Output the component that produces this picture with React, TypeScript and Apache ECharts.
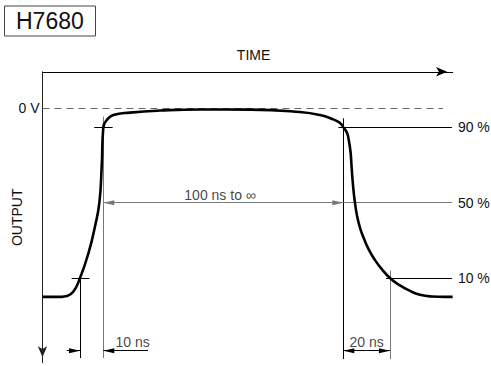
import React, { useEffect, useRef } from "react";
import * as echarts from "echarts";

// ---------- data ----------
const TITLE = "H7680";
const TIME_LABEL = "TIME";
const OUTPUT_LABEL = "OUTPUT";
const ZERO_LABEL = "0 V";

// axis ranges: time in ns, output in % of pulse amplitude (100 % = 0 V)
const TIME_RANGE = [0, 176];
const OUTPUT_RANGE = [-35, 119.5];

// pulse waveform
const PULSE_TIME = [
  0, 8.2, 10.4, 13.2, 16.1, 19.7, 22.5, 24.4, 25.4, 26.1, 27.6, 30.4, 37.6, 50.4, 67.6, 89.1,
  110.5, 119.1, 124.7, 127.7, 129.1, 130.7, 131.5, 132.2, 132.6, 133.0, 133.5, 134.1, 135.0,
  136.3, 138.0, 140.1, 142.7, 145.7, 149.1, 153.0, 157.3, 162.0, 167.2, 172.8, 176,
];
const PULSE_OUTPUT = [
  0, 0, 0.4, 2.7, 10, 23.1, 37.2, 50, 69.1, 90, 93.9, 96.5, 97.8, 98.9, 99.5, 99.4,
  98.1, 96.5, 94.2, 92.3, 90, 87.0, 82.7, 76.9, 70.0, 63.1, 56.2, 50, 42.9,
  36.5, 30.7, 24.9, 19.5, 14.6, 10, 6.4, 3.4, 1.1, 0.2, 0, 0,
];

// characteristic times (ns)
const RISE_10 = 16.1;
const RISE_90 = 26.1;
const FALL_90 = 129.1;
const FALL_10 = 149.1;

// level markers
const LEVELS = [90, 50, 10];
const LEVEL_LABELS = ["90 %", "50 %", "10 %"];
const ZERO_LEVEL = 100;

const WIDTH_LABEL = "100 ns to \u221e";
const RISE_LABEL = "10 ns";
const FALL_LABEL = "20 ns";

// ---------- styling / layout helpers ----------
const FONT = "'Liberation Sans', Arial, Helvetica, sans-serif";
const BLACK = "#111";
const GREY = "#777";
const ARROW = "path://M5,0L10,22L0,22Z";
const DIM_Y = -28.6; // dimension line level (in output units)
const LINE_BOTTOM = -32.5;
const RIGHT_END = 175.7;

type Pt = [number, number];
function seg(from: Pt, to: Pt, color: string, opts: any = {}) {
  return [
    {
      coord: from,
      symbol: "none",
      lineStyle: { color, width: 1, type: opts.dash ? [7, 5] : "solid" },
      label: opts.label
        ? {
            show: true,
            position: opts.labelPos,
            formatter: opts.label,
            distance: opts.labelDist ?? 5,
            color: BLACK,
            fontSize: 14,
            fontFamily: FONT,
          }
        : { show: false },
    },
    {
      coord: to,
      symbol: opts.arrow ? ARROW : "none",
      symbolSize: [5, 11],
      symbolOffset: [0, 5.5],
    },
  ];
}

function buildOption() {
  const pulse = PULSE_TIME.map((t, i) => [t, PULSE_OUTPUT[i]]);
  const midWidth = (RISE_90 + FALL_90) / 2;
  const midFall = (FALL_90 + FALL_10) / 2;

  const lines = [
    // 0 V reference
    seg([TIME_RANGE[0], ZERO_LEVEL], [171.9, ZERO_LEVEL], "#666", {
      dash: true,
      label: ZERO_LABEL,
      labelPos: "start",
      labelDist: 3,
    }),
    // rise ticks
    seg([12.5, 10], [20.1, 10], "#000"),
    seg([22.2, 90], [30.1, 90], "#000"),
    seg([RISE_10, 11.6], [RISE_10, LINE_BOTTOM], "#000"),
    seg([RISE_90, 95.7], [RISE_90, LINE_BOTTOM], GREY),
    // fall verticals
    seg([FALL_90, 94.8], [FALL_90, -33], "#000"),
    seg([FALL_10, 13.9], [FALL_10, -33], GREY),
    // level lines
    seg([127, LEVELS[0]], [RIGHT_END, LEVELS[0]], "#000", { label: LEVEL_LABELS[0], labelPos: "end", labelDist: 6 }),
    seg([FALL_90, LEVELS[1]], [RIGHT_END, LEVELS[1]], GREY, { label: LEVEL_LABELS[1], labelPos: "end", labelDist: 6 }),
    seg([147.4, LEVELS[2]], [RIGHT_END, LEVELS[2]], "#000", { label: LEVEL_LABELS[2], labelPos: "end", labelDist: 6 }),
    // pulse width arrows
    seg([midWidth, LEVELS[1]], [RISE_90, LEVELS[1]], GREY, { arrow: true }),
    seg([midWidth, LEVELS[1]], [FALL_90, LEVELS[1]], GREY, { arrow: true }),
    // rise time arrows
    seg([10.4, DIM_Y], [RISE_10, DIM_Y], "#000", { arrow: true }),
    seg([45.3, DIM_Y], [RISE_90, DIM_Y], "#000", { arrow: true }),
    // fall time arrows
    seg([midFall, DIM_Y], [FALL_90, DIM_Y], "#000", { arrow: true }),
    seg([midFall, DIM_Y], [FALL_10, DIM_Y], "#000", { arrow: true }),
  ];

  const texts = [
    { value: [76.2, 54], name: WIDTH_LABEL, label: { position: "inside" } },
    { value: [31.1, -23.9], name: RISE_LABEL, label: { position: "right", distance: 0 } },
    { value: [midFall, -23.9], name: FALL_LABEL, label: { position: "inside" } },
  ];

  return {
    animation: false,
    backgroundColor: "#fff",
    textStyle: { fontFamily: FONT },
    title: {
      text: TITLE,
      left: 4,
      top: 5.5,
      padding: [4, 12],
      borderWidth: 1,
      borderColor: "#444",
      textStyle: { fontSize: 23, fontWeight: "normal", color: BLACK, fontFamily: FONT, lineHeight: 23 },
    },
    grid: { left: 42.5, top: 71.76, width: 410.1, height: 291, outerBoundsMode: "none", containLabel: false },
    xAxis: {
      type: "value",
      position: "top",
      min: TIME_RANGE[0],
      max: TIME_RANGE[1],
      name: TIME_LABEL,
      nameLocation: "middle",
      nameGap: 10,
      nameTextStyle: { fontSize: 14, color: BLACK, fontFamily: FONT, padding: [0, 0, 0, 12] },
      axisLine: {
        show: true,
        onZero: false,
        symbol: ["none", "arrow"],
        symbolSize: [7, 11],
        symbolOffset: [0, -5.5],
        lineStyle: { color: "#000", width: 1 },
      },
      axisTick: { show: false },
      axisLabel: { show: false },
      splitLine: { show: false },
    },
    yAxis: {
      type: "value",
      min: OUTPUT_RANGE[0],
      max: OUTPUT_RANGE[1],
      name: OUTPUT_LABEL,
      nameLocation: "middle",
      nameGap: 19,
      nameRotate: 90,
      nameTextStyle: { fontSize: 14, color: BLACK, fontFamily: FONT },
      axisLine: {
        show: true,
        onZero: false,
        symbol: ["arrow", "none"],
        symbolSize: [7, 11],
        symbolOffset: [5.5, 0],
        lineStyle: { color: "#222", width: 1 },
      },
      axisTick: { show: false },
      axisLabel: { show: false },
      splitLine: { show: false },
    },
    series: [
      {
        type: "line",
        data: pulse,
        smooth: 0.5,
        showSymbol: false,
        silent: true,
        lineStyle: { color: "#000", width: 2.6 },
        z: 5,
        markLine: {
          silent: true,
          animation: false,
          symbol: ["none", "none"],
          label: { show: false },
          emphasis: { disabled: true },
          data: lines,
          z: 3,
        },
      },
      {
        type: "scatter",
        data: texts,
        symbolSize: 1,
        silent: true,
        itemStyle: { color: "rgba(0,0,0,0)" },
        label: { show: true, formatter: "{b}", color: BLACK, fontSize: 14, fontFamily: FONT },
        labelLayout: { hideOverlap: false },
        z: 6,
      },
    ],
  };
}

export default function App() {
  const ref = useRef<HTMLDivElement>(null);
  useEffect(() => {
    const chart = echarts.init(ref.current!, null, { renderer: "svg" });
    chart.setOption(buildOption() as any);
    return () => chart.dispose();
  }, []);
  return (
    <div
      ref={ref}
      style={{ position: "fixed", left: 0, top: 0, width: 491, height: 366, background: "#fff" }}
    />
  );
}
